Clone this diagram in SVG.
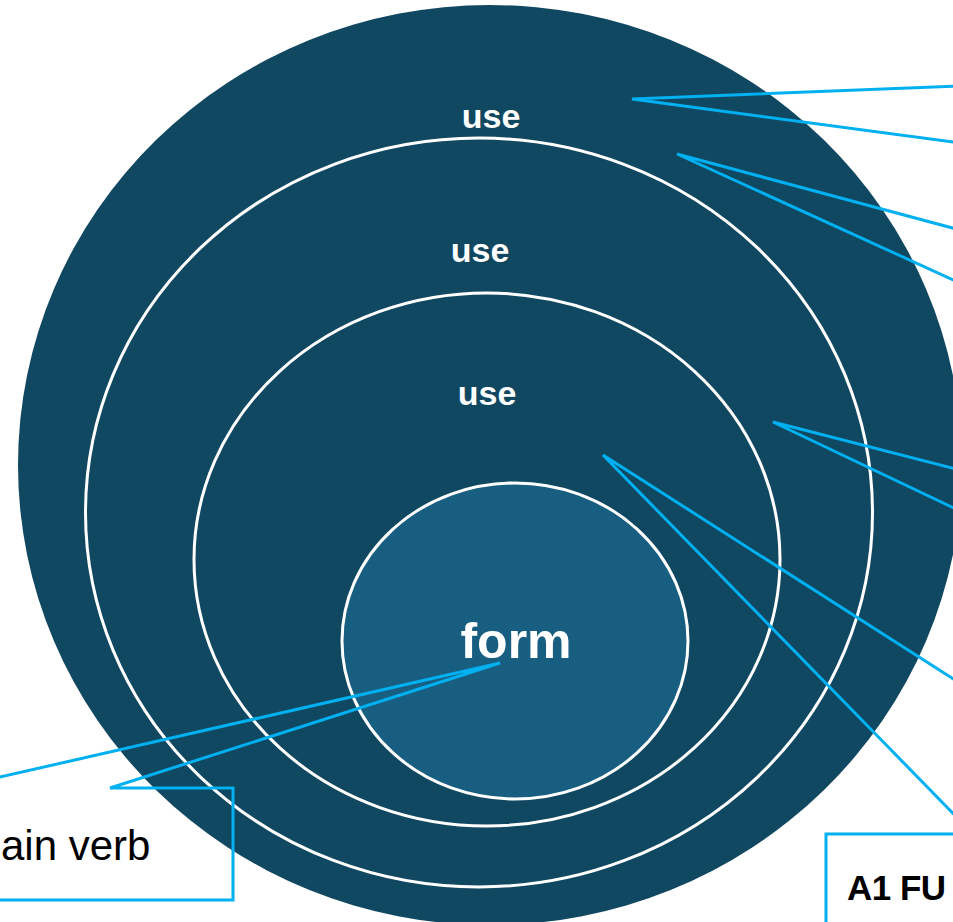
<svg xmlns="http://www.w3.org/2000/svg" width="953" height="922" viewBox="0 0 953 922">
  <style>
    .ring { fill: #114861; stroke: #ffffff; stroke-width: 3; }
    .core { fill: #175e80; stroke: #ffffff; stroke-width: 3; }
    .lbl { font-family: "Liberation Sans", Arial, sans-serif; font-weight: bold; fill: #ffffff; text-anchor: middle; }
    .wire { fill: none; stroke: #00b0f0; stroke-width: 3; stroke-linejoin: miter; }
    .note { font-family: "Liberation Sans", Arial, sans-serif; fill: #000000; }
  </style>

  <!-- concentric layers -->
  <g id="layer-outer">
    <ellipse cx="490" cy="465" rx="472" ry="460" fill="#114861"/>
    <text class="lbl" x="491" y="128" font-size="34">use</text>
  </g>
  <g id="layer-second">
    <ellipse class="ring" cx="479" cy="512.5" rx="393.5" ry="374.5"/>
    <text class="lbl" x="480" y="262" font-size="34">use</text>
  </g>
  <g id="layer-third">
    <ellipse class="ring" cx="487" cy="559.5" rx="293" ry="266.5"/>
    <text class="lbl" x="487" y="405" font-size="34">use</text>
  </g>
  <g id="layer-form">
    <ellipse class="core" cx="515" cy="641" rx="173" ry="158"/>
    <text class="lbl" x="516" y="658" font-size="50">form</text>
  </g>

  <!-- callout pointers and boxes -->
  <g id="connectors">
    <path class="wire" d="M 960 86 L 632 99 L 960 143"/>
    <path class="wire" d="M 960 230 L 677 154 L 960 283"/>
    <path class="wire" d="M 960 470 L 773 422 L 960 511"/>
    <path class="wire" d="M 980 696 L 603 455 L 980 841"/>
    <path class="wire" d="M 110 788 L 233 788 L 233 900 L -300 900 L -300 788 L -48 788 L 500 663 Z"/>
    <path class="wire" d="M 826 990 L 826 834 L 990 834"/>
  </g>

  <g id="note-main-verb">
    <text class="note" x="1" y="860" font-size="42">ain verb</text>
  </g>
  <g id="note-a1">
    <text class="note" x="847" y="900" font-size="35" font-weight="bold" letter-spacing="-0.5">A1 FU</text>
  </g>
</svg>
